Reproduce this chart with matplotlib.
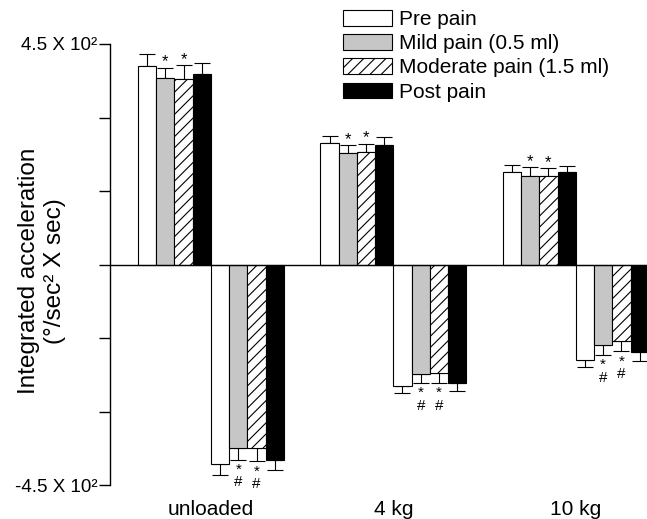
import numpy as np
import matplotlib
matplotlib.use("Agg")
from matplotlib import pyplot as plt

plt.rcParams['font.family'] = ['Liberation Sans', 'DejaVu Sans']
plt.rcParams['hatch.linewidth'] = 0.8

categories = ['unloaded', '4 kg', '10 kg']
conditions = ['Pre pain', 'Mild pain (0.5 ml)', 'Moderate pain (1.5 ml)', 'Post pain']

# upward (positive) part, one list per condition, values per category
pos_pre = [405, 247, 189]
pos_mild = [380, 227, 181]
pos_mod = [379, 229, 181]
pos_post = [388, 244, 189]
pos_err_pre = [24, 16, 14]
pos_err_mild = [22, 16, 17]
pos_err_mod = [28, 17, 15]
pos_err_post = [24, 17, 13]

# downward (negative) part
neg_pre = [-407, -247, -194]
neg_mild = [-375, -223, -164]
neg_mod = [-374, -222, -156]
neg_post = [-398, -242, -178]
neg_err_pre = [23, 15, 16]
neg_err_mild = [23, 18, 21]
neg_err_mod = [28, 19, 21]
neg_err_post = [21, 16, 18]

# which conditions carry significance marks (index into conditions)
marked = [1, 2]

pos_vals = [pos_pre, pos_mild, pos_mod, pos_post]
pos_errs = [pos_err_pre, pos_err_mild, pos_err_mod, pos_err_post]
neg_vals = [neg_pre, neg_mild, neg_mod, neg_post]
neg_errs = [neg_err_pre, neg_err_mild, neg_err_mod, neg_err_post]

faces = ['white', '#c6c6c6', 'white', 'black']
hatches = [None, None, '///', None]

fig = plt.figure(figsize=(6.47, 5.19), dpi=100)
ax = fig.add_axes([110/647, 1-485/519, 1-110/647, (485-44)/519])

group_start = np.arange(len(categories)) * 10
handles = []
for i in range(4):
    xp = group_start + i
    xn = group_start + 4 + i
    b = ax.bar(xp, pos_vals[i], width=1, align='edge', color=faces[i],
               edgecolor='black', linewidth=0.8, hatch=hatches[i], zorder=2)
    ax.errorbar(xp + 0.5, pos_vals[i], yerr=[[0]*3, pos_errs[i]], fmt='none',
                ecolor='black', elinewidth=0.8, capsize=6, capthick=0.8, zorder=1)
    ax.bar(xn, neg_vals[i], width=1, align='edge', color=faces[i],
           edgecolor='black', linewidth=0.8, hatch=hatches[i], zorder=2)
    ax.errorbar(xn + 0.5, neg_vals[i], yerr=[neg_errs[i], [0]*3], fmt='none',
                ecolor='black', elinewidth=0.8, capsize=6, capthick=0.8, zorder=1)
    handles.append(b)

    if i in marked:
        for g in range(len(categories)):
            top = pos_vals[i][g] + pos_errs[i][g]
            ax.annotate('*', (xp[g] + 0.5, top), xytext=(0, 1), textcoords='offset points',
                        ha='center', va='baseline', fontsize=12)
            bot = neg_vals[i][g] - neg_errs[i][g]
            ax.annotate('*\n#', (xn[g] + 0.5, bot), xytext=(0, -2.2), textcoords='offset points',
                        ha='center', va='top', fontsize=11, linespacing=0.9,
                        multialignment='center')

ax.axhline(0, color='black', linewidth=1, zorder=3)

ax.set_xlim(-1.53, 27.9)
ax.set_ylim(-450, 450)
ax.set_yticks([-450, -300, -150, 0, 150, 300, 450])
ax.set_yticklabels(['-4.5 X 10²', '', '', '', '', '', '4.5 X 10²'])
ax.tick_params(axis='y', direction='out', length=8, width=1, pad=1, labelsize=13.5)
ax.set_xticks(group_start + 4)
ax.set_xticklabels(categories)
ax.tick_params(axis='x', length=0, pad=11, labelsize=15)
for s in ['top', 'right', 'bottom']:
    ax.spines[s].set_visible(False)
ax.spines['left'].set_linewidth(1)

fig.text(42/647, 1-271/519, 'Integrated acceleration\n(°/sec² X sec)', rotation=90,
         ha='center', va='center', multialignment='center', fontsize=17.5)

fig.legend(handles, conditions, loc='upper left', bbox_to_anchor=(343/647, 1-10/519),
           frameon=False, fontsize=15, handlelength=2.35, handleheight=0.77,
           handletextpad=0.33, labelspacing=0.25, borderpad=0, borderaxespad=0)

fig.savefig('out.png', dpi=100)
